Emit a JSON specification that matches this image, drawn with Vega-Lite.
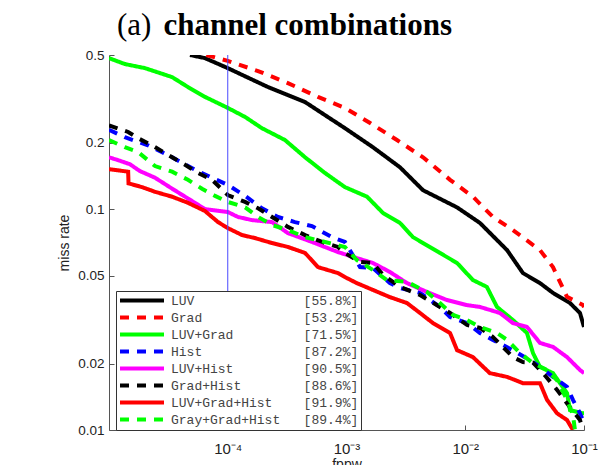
{
  "$schema": "https://vega.github.io/schema/vega-lite/v6.json",
  "width": 475,
  "height": 375,
  "autosize": {"type": "none"},
  "padding": {"left": 109, "top": 55, "right": 30, "bottom": 35},
  "background": "white",
  "title": {
    "text": "(a)",
    "subtitle": "\u200b\u00a0\u00a0\u00a0\u00a0\u00a0\u00a0channel combinations",
    "anchor": "start",
    "frame": "group",
    "dx": 8,
    "offset": 6,
    "font": "Liberation Serif",
    "fontSize": 31,
    "fontWeight": "normal",
    "color": "black",
    "subtitleFont": "Liberation Serif",
    "subtitleFontSize": 31,
    "subtitleFontWeight": "bold",
    "subtitleColor": "black",
    "subtitlePadding": -31
  },
  "config": {
    "view": {"stroke": null},
    "axis": {
      "domainColor": "#555555",
      "tickColor": "#555555",
      "tickSize": -5,
      "grid": false,
      "labelFont": "Liberation Sans",
      "labelFontSize": 13.5,
      "labelColor": "#222222",
      "labelOverlap": false,
      "labelFlush": false,
      "titleFont": "Liberation Sans",
      "titleFontSize": 14,
      "titleFontWeight": "normal",
      "titleColor": "#222222"
    },
    "legend": {
      "orient": "none",
      "legendX": 7,
      "legendY": 236,
      "title": null,
      "symbolType": "M-1,0H7",
      "symbolSize": 121,
      "symbolStrokeWidth": 4,
      "labelFont": "Liberation Mono",
      "labelFontSize": 13,
      "labelColor": "#444444",
      "labelLimit": 400,
      "labelOffset": 38,
      "strokeColor": "#333333",
      "fillColor": "white",
      "padding": 2,
      "rowPadding": 0
    }
  },
  "layer": [
    {
      "data": {"values": [
        {"s": "LUV [55.8%]", "fppw": 4.81e-5, "mr": 0.5},
        {"s": "LUV [55.8%]", "fppw": 6.43e-5, "mr": 0.484},
        {"s": "LUV [55.8%]", "fppw": 1e-4, "mr": 0.436},
        {"s": "LUV [55.8%]", "fppw": 2.18e-4, "mr": 0.358},
        {"s": "LUV [55.8%]", "fppw": 4.48e-4, "mr": 0.306},
        {"s": "LUV [55.8%]", "fppw": 9.7e-4, "mr": 0.233},
        {"s": "LUV [55.8%]", "fppw": 1.67e-3, "mr": 0.191},
        {"s": "LUV [55.8%]", "fppw": 2.82e-3, "mr": 0.155},
        {"s": "LUV [55.8%]", "fppw": 4.41e-3, "mr": 0.122},
        {"s": "LUV [55.8%]", "fppw": 8.53e-3, "mr": 0.102},
        {"s": "LUV [55.8%]", "fppw": 1.33e-2, "mr": 0.0867},
        {"s": "LUV [55.8%]", "fppw": 2.25e-2, "mr": 0.0653},
        {"s": "LUV [55.8%]", "fppw": 3.06e-2, "mr": 0.0514},
        {"s": "LUV [55.8%]", "fppw": 4.26e-2, "mr": 0.0463},
        {"s": "LUV [55.8%]", "fppw": 5.48e-2, "mr": 0.0418},
        {"s": "LUV [55.8%]", "fppw": 7.62e-2, "mr": 0.0376},
        {"s": "LUV [55.8%]", "fppw": 9.25e-2, "mr": 0.0339},
        {"s": "LUV [55.8%]", "fppw": 0.1, "mr": 0.0293},

        {"s": "Grad [53.2%]", "fppw": 6.6e-5, "mr": 0.5},
        {"s": "Grad [53.2%]", "fppw": 1e-4, "mr": 0.47},
        {"s": "Grad [53.2%]", "fppw": 1.8e-4, "mr": 0.423},
        {"s": "Grad [53.2%]", "fppw": 3.21e-4, "mr": 0.373},
        {"s": "Grad [53.2%]", "fppw": 5.75e-4, "mr": 0.323},
        {"s": "Grad [53.2%]", "fppw": 9.7e-4, "mr": 0.288},
        {"s": "Grad [53.2%]", "fppw": 1.58e-3, "mr": 0.246},
        {"s": "Grad [53.2%]", "fppw": 2.66e-3, "mr": 0.206},
        {"s": "Grad [53.2%]", "fppw": 4.41e-3, "mr": 0.172},
        {"s": "Grad [53.2%]", "fppw": 7.45e-3, "mr": 0.136},
        {"s": "Grad [53.2%]", "fppw": 1.16e-2, "mr": 0.114},
        {"s": "Grad [53.2%]", "fppw": 1.71e-2, "mr": 0.0923},
        {"s": "Grad [53.2%]", "fppw": 2.52e-2, "mr": 0.0805},
        {"s": "Grad [53.2%]", "fppw": 4.26e-2, "mr": 0.0653},
        {"s": "Grad [53.2%]", "fppw": 5.48e-2, "mr": 0.0547},
        {"s": "Grad [53.2%]", "fppw": 7.19e-2, "mr": 0.0401},
        {"s": "Grad [53.2%]", "fppw": 9.82e-2, "mr": 0.0368},
        {"s": "Grad [53.2%]", "fppw": 0.1, "mr": 0.036},

        {"s": "LUV+Grad [71.5%]", "fppw": 1e-5, "mr": 0.484},
        {"s": "LUV+Grad [71.5%]", "fppw": 1.36e-5, "mr": 0.455},
        {"s": "LUV+Grad [71.5%]", "fppw": 2.01e-5, "mr": 0.436},
        {"s": "LUV+Grad [71.5%]", "fppw": 3.4e-5, "mr": 0.397},
        {"s": "LUV+Grad [71.5%]", "fppw": 4.62e-5, "mr": 0.358},
        {"s": "LUV+Grad [71.5%]", "fppw": 6.43e-5, "mr": 0.323},
        {"s": "LUV+Grad [71.5%]", "fppw": 1e-4, "mr": 0.288},
        {"s": "LUV+Grad [71.5%]", "fppw": 1.4e-4, "mr": 0.262},
        {"s": "LUV+Grad [71.5%]", "fppw": 1.94e-4, "mr": 0.233},
        {"s": "LUV+Grad [71.5%]", "fppw": 3.03e-4, "mr": 0.206},
        {"s": "LUV+Grad [71.5%]", "fppw": 4.48e-4, "mr": 0.172},
        {"s": "LUV+Grad [71.5%]", "fppw": 6.59e-4, "mr": 0.146},
        {"s": "LUV+Grad [71.5%]", "fppw": 9.7e-4, "mr": 0.126},
        {"s": "LUV+Grad [71.5%]", "fppw": 1.49e-3, "mr": 0.114},
        {"s": "LUV+Grad [71.5%]", "fppw": 2.03e-3, "mr": 0.0962},
        {"s": "LUV+Grad [71.5%]", "fppw": 2.82e-3, "mr": 0.0867},
        {"s": "LUV+Grad [71.5%]", "fppw": 3.63e-3, "mr": 0.0748},
        {"s": "LUV+Grad [71.5%]", "fppw": 6.12e-3, "mr": 0.0634},
        {"s": "LUV+Grad [71.5%]", "fppw": 8.53e-3, "mr": 0.0571},
        {"s": "LUV+Grad [71.5%]", "fppw": 1.16e-2, "mr": 0.0478},
        {"s": "LUV+Grad [71.5%]", "fppw": 1.52e-2, "mr": 0.0445},
        {"s": "LUV+Grad [71.5%]", "fppw": 1.85e-2, "mr": 0.0361},
        {"s": "LUV+Grad [71.5%]", "fppw": 2.52e-2, "mr": 0.0315},
        {"s": "LUV+Grad [71.5%]", "fppw": 3.31e-2, "mr": 0.0275},
        {"s": "LUV+Grad [71.5%]", "fppw": 3.72e-2, "mr": 0.0223},
        {"s": "LUV+Grad [71.5%]", "fppw": 4.26e-2, "mr": 0.0193},
        {"s": "LUV+Grad [71.5%]", "fppw": 5.48e-2, "mr": 0.0181},
        {"s": "LUV+Grad [71.5%]", "fppw": 7.19e-2, "mr": 0.0147},
        {"s": "LUV+Grad [71.5%]", "fppw": 7.62e-2, "mr": 0.0123},
        {"s": "LUV+Grad [71.5%]", "fppw": 9.82e-2, "mr": 0.0119},
        {"s": "LUV+Grad [71.5%]", "fppw": 0.1, "mr": 0.0119},

        {"s": "Hist [87.2%]", "fppw": 1e-5, "mr": 0.229},
        {"s": "Hist [87.2%]", "fppw": 1.36e-5, "mr": 0.212},
        {"s": "Hist [87.2%]", "fppw": 2.13e-5, "mr": 0.195},
        {"s": "Hist [87.2%]", "fppw": 3.4e-5, "mr": 0.172},
        {"s": "Hist [87.2%]", "fppw": 5.3e-5, "mr": 0.151},
        {"s": "Hist [87.2%]", "fppw": 7.36e-5, "mr": 0.139},
        {"s": "Hist [87.2%]", "fppw": 1e-4, "mr": 0.129},
        {"s": "Hist [87.2%]", "fppw": 1.4e-4, "mr": 0.115},
        {"s": "Hist [87.2%]", "fppw": 1.94e-4, "mr": 0.101},
        {"s": "Hist [87.2%]", "fppw": 2.65e-4, "mr": 0.0923},
        {"s": "Hist [87.2%]", "fppw": 3.68e-4, "mr": 0.0875},
        {"s": "Hist [87.2%]", "fppw": 5.12e-4, "mr": 0.0839},
        {"s": "Hist [87.2%]", "fppw": 7.55e-4, "mr": 0.0748},
        {"s": "Hist [87.2%]", "fppw": 9.7e-4, "mr": 0.0711},
        {"s": "Hist [87.2%]", "fppw": 1.3e-3, "mr": 0.0547},
        {"s": "Hist [87.2%]", "fppw": 1.67e-3, "mr": 0.0542},
        {"s": "Hist [87.2%]", "fppw": 2.32e-3, "mr": 0.0463},
        {"s": "Hist [87.2%]", "fppw": 2.82e-3, "mr": 0.044},
        {"s": "Hist [87.2%]", "fppw": 4.16e-3, "mr": 0.0418},
        {"s": "Hist [87.2%]", "fppw": 6.12e-3, "mr": 0.0361},
        {"s": "Hist [87.2%]", "fppw": 7.45e-3, "mr": 0.0325},
        {"s": "Hist [87.2%]", "fppw": 1.035e-2, "mr": 0.0305},
        {"s": "Hist [87.2%]", "fppw": 1.33e-2, "mr": 0.0275},
        {"s": "Hist [87.2%]", "fppw": 1.71e-2, "mr": 0.0256},
        {"s": "Hist [87.2%]", "fppw": 2.52e-2, "mr": 0.023},
        {"s": "Hist [87.2%]", "fppw": 3.51e-2, "mr": 0.0207},
        {"s": "Hist [87.2%]", "fppw": 4.26e-2, "mr": 0.0193},
        {"s": "Hist [87.2%]", "fppw": 5.48e-2, "mr": 0.0174},
        {"s": "Hist [87.2%]", "fppw": 7.19e-2, "mr": 0.0157},
        {"s": "Hist [87.2%]", "fppw": 8.07e-2, "mr": 0.0137},
        {"s": "Hist [87.2%]", "fppw": 9.25e-2, "mr": 0.0119},
        {"s": "Hist [87.2%]", "fppw": 0.1, "mr": 0.0108},

        {"s": "LUV+Hist [90.5%]", "fppw": 1e-5, "mr": 0.172},
        {"s": "LUV+Hist [90.5%]", "fppw": 1.19e-5, "mr": 0.167},
        {"s": "LUV+Hist [90.5%]", "fppw": 1.5e-5, "mr": 0.16},
        {"s": "LUV+Hist [90.5%]", "fppw": 1.82e-5, "mr": 0.149},
        {"s": "LUV+Hist [90.5%]", "fppw": 2.44e-5, "mr": 0.139},
        {"s": "LUV+Hist [90.5%]", "fppw": 3.4e-5, "mr": 0.124},
        {"s": "LUV+Hist [90.5%]", "fppw": 5e-5, "mr": 0.109},
        {"s": "LUV+Hist [90.5%]", "fppw": 6.43e-5, "mr": 0.1002},
        {"s": "LUV+Hist [90.5%]", "fppw": 1e-4, "mr": 0.0972},
        {"s": "LUV+Hist [90.5%]", "fppw": 1.22e-4, "mr": 0.0923},
        {"s": "LUV+Hist [90.5%]", "fppw": 1.6e-4, "mr": 0.0893},
        {"s": "LUV+Hist [90.5%]", "fppw": 2.36e-4, "mr": 0.0875},
        {"s": "LUV+Hist [90.5%]", "fppw": 3.21e-4, "mr": 0.078},
        {"s": "LUV+Hist [90.5%]", "fppw": 5.12e-4, "mr": 0.0711},
        {"s": "LUV+Hist [90.5%]", "fppw": 8.47e-4, "mr": 0.064},
        {"s": "LUV+Hist [90.5%]", "fppw": 1.22e-3, "mr": 0.0601},
        {"s": "LUV+Hist [90.5%]", "fppw": 1.67e-3, "mr": 0.0571},
        {"s": "LUV+Hist [90.5%]", "fppw": 2.32e-3, "mr": 0.052},
        {"s": "LUV+Hist [90.5%]", "fppw": 3.23e-3, "mr": 0.0463},
        {"s": "LUV+Hist [90.5%]", "fppw": 4.76e-3, "mr": 0.0422},
        {"s": "LUV+Hist [90.5%]", "fppw": 7.01e-3, "mr": 0.0388},
        {"s": "LUV+Hist [90.5%]", "fppw": 1.035e-2, "mr": 0.0368},
        {"s": "LUV+Hist [90.5%]", "fppw": 1.33e-2, "mr": 0.0361},
        {"s": "LUV+Hist [90.5%]", "fppw": 1.96e-2, "mr": 0.0339},
        {"s": "LUV+Hist [90.5%]", "fppw": 2.52e-2, "mr": 0.0305},
        {"s": "LUV+Hist [90.5%]", "fppw": 3.31e-2, "mr": 0.0293},
        {"s": "LUV+Hist [90.5%]", "fppw": 4.26e-2, "mr": 0.0248},
        {"s": "LUV+Hist [90.5%]", "fppw": 5.48e-2, "mr": 0.0238},
        {"s": "LUV+Hist [90.5%]", "fppw": 7.19e-2, "mr": 0.0214},
        {"s": "LUV+Hist [90.5%]", "fppw": 9.25e-2, "mr": 0.0187},
        {"s": "LUV+Hist [90.5%]", "fppw": 0.1, "mr": 0.0181},

        {"s": "Grad+Hist [88.6%]", "fppw": 1e-5, "mr": 0.24},
        {"s": "Grad+Hist [88.6%]", "fppw": 1.45e-5, "mr": 0.224},
        {"s": "Grad+Hist [88.6%]", "fppw": 1.75e-5, "mr": 0.21},
        {"s": "Grad+Hist [88.6%]", "fppw": 2.3e-5, "mr": 0.195},
        {"s": "Grad+Hist [88.6%]", "fppw": 3.4e-5, "mr": 0.172},
        {"s": "Grad+Hist [88.6%]", "fppw": 4.37e-5, "mr": 0.159},
        {"s": "Grad+Hist [88.6%]", "fppw": 5.61e-5, "mr": 0.146},
        {"s": "Grad+Hist [88.6%]", "fppw": 7.36e-5, "mr": 0.136},
        {"s": "Grad+Hist [88.6%]", "fppw": 1e-4, "mr": 0.116},
        {"s": "Grad+Hist [88.6%]", "fppw": 1.4e-4, "mr": 0.108},
        {"s": "Grad+Hist [88.6%]", "fppw": 1.8e-4, "mr": 0.101},
        {"s": "Grad+Hist [88.6%]", "fppw": 2.36e-4, "mr": 0.0923},
        {"s": "Grad+Hist [88.6%]", "fppw": 3.21e-4, "mr": 0.0832},
        {"s": "Grad+Hist [88.6%]", "fppw": 4.48e-4, "mr": 0.0764},
        {"s": "Grad+Hist [88.6%]", "fppw": 6.22e-4, "mr": 0.0711},
        {"s": "Grad+Hist [88.6%]", "fppw": 8.47e-4, "mr": 0.0675},
        {"s": "Grad+Hist [88.6%]", "fppw": 9.7e-4, "mr": 0.0634},
        {"s": "Grad+Hist [88.6%]", "fppw": 1.3e-3, "mr": 0.0577},
        {"s": "Grad+Hist [88.6%]", "fppw": 1.67e-3, "mr": 0.0571},
        {"s": "Grad+Hist [88.6%]", "fppw": 2.03e-3, "mr": 0.0504},
        {"s": "Grad+Hist [88.6%]", "fppw": 2.82e-3, "mr": 0.0445},
        {"s": "Grad+Hist [88.6%]", "fppw": 4.16e-3, "mr": 0.0409},
        {"s": "Grad+Hist [88.6%]", "fppw": 6.12e-3, "mr": 0.0361},
        {"s": "Grad+Hist [88.6%]", "fppw": 7.45e-3, "mr": 0.0339},
        {"s": "Grad+Hist [88.6%]", "fppw": 1.035e-2, "mr": 0.0299},
        {"s": "Grad+Hist [88.6%]", "fppw": 1.33e-2, "mr": 0.029},
        {"s": "Grad+Hist [88.6%]", "fppw": 1.71e-2, "mr": 0.0264},
        {"s": "Grad+Hist [88.6%]", "fppw": 2.52e-2, "mr": 0.0214},
        {"s": "Grad+Hist [88.6%]", "fppw": 3.06e-2, "mr": 0.0203},
        {"s": "Grad+Hist [88.6%]", "fppw": 3.72e-2, "mr": 0.0202},
        {"s": "Grad+Hist [88.6%]", "fppw": 4.52e-2, "mr": 0.0181},
        {"s": "Grad+Hist [88.6%]", "fppw": 5.93e-2, "mr": 0.0152},
        {"s": "Grad+Hist [88.6%]", "fppw": 7.19e-2, "mr": 0.0132},
        {"s": "Grad+Hist [88.6%]", "fppw": 9.25e-2, "mr": 0.0111},
        {"s": "Grad+Hist [88.6%]", "fppw": 0.0982, "mr": 0.01},

        {"s": "LUV+Grad+Hist [91.9%]", "fppw": 1e-5, "mr": 0.152},
        {"s": "LUV+Grad+Hist [91.9%]", "fppw": 1.45e-5, "mr": 0.148},
        {"s": "LUV+Grad+Hist [91.9%]", "fppw": 1.46e-5, "mr": 0.131},
        {"s": "LUV+Grad+Hist [91.9%]", "fppw": 1.9e-5, "mr": 0.126},
        {"s": "LUV+Grad+Hist [91.9%]", "fppw": 2.44e-5, "mr": 0.12},
        {"s": "LUV+Grad+Hist [91.9%]", "fppw": 3.4e-5, "mr": 0.114},
        {"s": "LUV+Grad+Hist [91.9%]", "fppw": 4.62e-5, "mr": 0.107},
        {"s": "LUV+Grad+Hist [91.9%]", "fppw": 6.43e-5, "mr": 0.0982},
        {"s": "LUV+Grad+Hist [91.9%]", "fppw": 8.28e-5, "mr": 0.0875},
        {"s": "LUV+Grad+Hist [91.9%]", "fppw": 1e-4, "mr": 0.0822},
        {"s": "LUV+Grad+Hist [91.9%]", "fppw": 1.32e-4, "mr": 0.0764},
        {"s": "LUV+Grad+Hist [91.9%]", "fppw": 1.69e-4, "mr": 0.0741},
        {"s": "LUV+Grad+Hist [91.9%]", "fppw": 2.36e-4, "mr": 0.0703},
        {"s": "LUV+Grad+Hist [91.9%]", "fppw": 3.21e-4, "mr": 0.0675},
        {"s": "LUV+Grad+Hist [91.9%]", "fppw": 4.48e-4, "mr": 0.0634},
        {"s": "LUV+Grad+Hist [91.9%]", "fppw": 5.75e-4, "mr": 0.0547},
        {"s": "LUV+Grad+Hist [91.9%]", "fppw": 8.47e-4, "mr": 0.0514},
        {"s": "LUV+Grad+Hist [91.9%]", "fppw": 9.7e-4, "mr": 0.0493},
        {"s": "LUV+Grad+Hist [91.9%]", "fppw": 1.22e-3, "mr": 0.0463},
        {"s": "LUV+Grad+Hist [91.9%]", "fppw": 1.67e-3, "mr": 0.0431},
        {"s": "LUV+Grad+Hist [91.9%]", "fppw": 2.32e-3, "mr": 0.04},
        {"s": "LUV+Grad+Hist [91.9%]", "fppw": 3.23e-3, "mr": 0.0376},
        {"s": "LUV+Grad+Hist [91.9%]", "fppw": 4.16e-3, "mr": 0.0339},
        {"s": "LUV+Grad+Hist [91.9%]", "fppw": 5.35e-3, "mr": 0.0305},
        {"s": "LUV+Grad+Hist [91.9%]", "fppw": 7.45e-3, "mr": 0.0275},
        {"s": "LUV+Grad+Hist [91.9%]", "fppw": 8.53e-3, "mr": 0.023},
        {"s": "LUV+Grad+Hist [91.9%]", "fppw": 1.16e-2, "mr": 0.0214},
        {"s": "LUV+Grad+Hist [91.9%]", "fppw": 1.61e-2, "mr": 0.0181},
        {"s": "LUV+Grad+Hist [91.9%]", "fppw": 2.25e-2, "mr": 0.0174},
        {"s": "LUV+Grad+Hist [91.9%]", "fppw": 3.06e-2, "mr": 0.0163},
        {"s": "LUV+Grad+Hist [91.9%]", "fppw": 4.26e-2, "mr": 0.0163},
        {"s": "LUV+Grad+Hist [91.9%]", "fppw": 4.88e-2, "mr": 0.0137},
        {"s": "LUV+Grad+Hist [91.9%]", "fppw": 5.93e-2, "mr": 0.0119},
        {"s": "LUV+Grad+Hist [91.9%]", "fppw": 7.19e-2, "mr": 0.0111},
        {"s": "LUV+Grad+Hist [91.9%]", "fppw": 8.07e-2, "mr": 0.01},

        {"s": "Gray+Grad+Hist [89.4%]", "fppw": 1e-5, "mr": 0.206},
        {"s": "Gray+Grad+Hist [89.4%]", "fppw": 1.36e-5, "mr": 0.191},
        {"s": "Gray+Grad+Hist [89.4%]", "fppw": 1.75e-5, "mr": 0.182},
        {"s": "Gray+Grad+Hist [89.4%]", "fppw": 2.44e-5, "mr": 0.157},
        {"s": "Gray+Grad+Hist [89.4%]", "fppw": 3.4e-5, "mr": 0.148},
        {"s": "Gray+Grad+Hist [89.4%]", "fppw": 4.62e-5, "mr": 0.136},
        {"s": "Gray+Grad+Hist [89.4%]", "fppw": 6.07e-5, "mr": 0.124},
        {"s": "Gray+Grad+Hist [89.4%]", "fppw": 7.82e-5, "mr": 0.115},
        {"s": "Gray+Grad+Hist [89.4%]", "fppw": 1e-4, "mr": 0.108},
        {"s": "Gray+Grad+Hist [89.4%]", "fppw": 1.4e-4, "mr": 0.102},
        {"s": "Gray+Grad+Hist [89.4%]", "fppw": 1.8e-4, "mr": 0.0923},
        {"s": "Gray+Grad+Hist [89.4%]", "fppw": 2.36e-4, "mr": 0.0849},
        {"s": "Gray+Grad+Hist [89.4%]", "fppw": 3.21e-4, "mr": 0.0805},
        {"s": "Gray+Grad+Hist [89.4%]", "fppw": 4.48e-4, "mr": 0.0748},
        {"s": "Gray+Grad+Hist [89.4%]", "fppw": 6.59e-4, "mr": 0.0711},
        {"s": "Gray+Grad+Hist [89.4%]", "fppw": 9.7e-4, "mr": 0.0675},
        {"s": "Gray+Grad+Hist [89.4%]", "fppw": 1.22e-3, "mr": 0.0589},
        {"s": "Gray+Grad+Hist [89.4%]", "fppw": 1.67e-3, "mr": 0.0531},
        {"s": "Gray+Grad+Hist [89.4%]", "fppw": 2.19e-3, "mr": 0.0478},
        {"s": "Gray+Grad+Hist [89.4%]", "fppw": 3.23e-3, "mr": 0.0469},
        {"s": "Gray+Grad+Hist [89.4%]", "fppw": 4.76e-3, "mr": 0.0422},
        {"s": "Gray+Grad+Hist [89.4%]", "fppw": 6.12e-3, "mr": 0.0376},
        {"s": "Gray+Grad+Hist [89.4%]", "fppw": 7.89e-3, "mr": 0.0332},
        {"s": "Gray+Grad+Hist [89.4%]", "fppw": 1.035e-2, "mr": 0.0315},
        {"s": "Gray+Grad+Hist [89.4%]", "fppw": 1.33e-2, "mr": 0.0293},
        {"s": "Gray+Grad+Hist [89.4%]", "fppw": 1.85e-2, "mr": 0.0275},
        {"s": "Gray+Grad+Hist [89.4%]", "fppw": 2.25e-2, "mr": 0.0256},
        {"s": "Gray+Grad+Hist [89.4%]", "fppw": 2.89e-2, "mr": 0.0223},
        {"s": "Gray+Grad+Hist [89.4%]", "fppw": 3.72e-2, "mr": 0.0201},
        {"s": "Gray+Grad+Hist [89.4%]", "fppw": 4.88e-2, "mr": 0.0187},
        {"s": "Gray+Grad+Hist [89.4%]", "fppw": 5.93e-2, "mr": 0.0168},
        {"s": "Gray+Grad+Hist [89.4%]", "fppw": 7.19e-2, "mr": 0.0137},
        {"s": "Gray+Grad+Hist [89.4%]", "fppw": 8.07e-2, "mr": 0.0117},
        {"s": "Gray+Grad+Hist [89.4%]", "fppw": 8.39e-2, "mr": 0.01}
      ]},
      "mark": {"type": "line", "strokeWidth": 4, "clip": true},
      "encoding": {
        "x": {
          "field": "fppw", "type": "quantitative",
          "scale": {"type": "log", "domain": [0.00001, 0.1]},
          "axis": {
            "title": "fppw",
            "values": [0.0001, 0.001, 0.01, 0.1],
            "labelExpr": "datum.value < 0.0005 ? '10\u207b\u2074' : datum.value < 0.005 ? '10\u207b\u00b3' : datum.value < 0.05 ? '10\u207b\u00b2' : '10\u207b\u00b9'",
            "labelFontSize": 15,
            "labelPadding": 16,
            "titlePadding": 1
          }
        },
        "y": {
          "field": "mr", "type": "quantitative",
          "scale": {"type": "log", "domain": [0.01, 0.5]},
          "axis": {
            "title": "miss rate",
            "values": [0.01, 0.02, 0.05, 0.1, 0.2, 0.5],
            "format": "~g",
            "labelPadding": 10,
            "titlePadding": 6
          }
        },
        "color": {
          "field": "s", "type": "nominal",
          "scale": {
            "domain": ["LUV [55.8%]", "Grad [53.2%]", "LUV+Grad [71.5%]", "Hist [87.2%]", "LUV+Hist [90.5%]", "Grad+Hist [88.6%]", "LUV+Grad+Hist [91.9%]", "Gray+Grad+Hist [89.4%]"],
            "range": ["#000000", "#ff0000", "#00ff00", "#0000ff", "#ff00ff", "#000000", "#ff0000", "#00ff00"]
          },
          "legend": {
            "labelExpr": "pad(substring(datum.label, 0, indexof(datum.label, ' ')), 17, '\u00a0') + substring(datum.label, indexof(datum.label, ' ') + 1)"
          }
        },
        "strokeDash": {
          "field": "s", "type": "nominal",
          "scale": {
            "domain": ["LUV [55.8%]", "Grad [53.2%]", "LUV+Grad [71.5%]", "Hist [87.2%]", "LUV+Hist [90.5%]", "Grad+Hist [88.6%]", "LUV+Grad+Hist [91.9%]", "Gray+Grad+Hist [89.4%]"],
            "range": [[1, 0], [9, 8], [1, 0], [9, 8], [1, 0], [9, 8], [1, 0], [9, 8]]
          },
          "legend": {
            "labelExpr": "pad(substring(datum.label, 0, indexof(datum.label, ' ')), 17, '\u00a0') + substring(datum.label, indexof(datum.label, ' ') + 1)"
          }
        }
      }
    },
    {
      "data": {"values": [{"fppw": 0.0001}]},
      "mark": {"type": "rule", "color": "#4a4aff", "strokeWidth": 1},
      "encoding": {
        "x": {"field": "fppw", "type": "quantitative", "scale": {"type": "log", "domain": [0.00001, 0.1]}}
      }
    }
  ]
}
